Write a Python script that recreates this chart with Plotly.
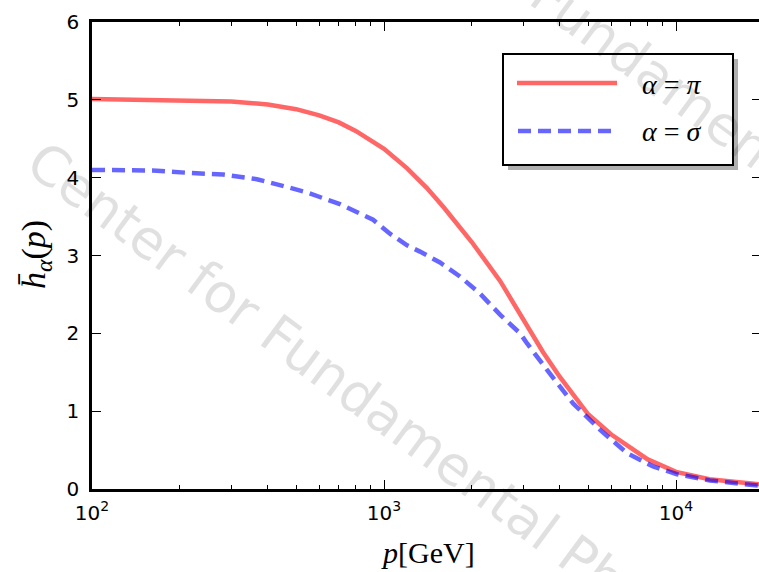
import plotly.graph_objects as go

# Momentum grid (GeV) and averaged h for the pi channel
p_pi = [100, 200, 300, 400, 500, 600, 700, 800, 900, 1000, 1200, 1400, 1600,
        2000, 2500, 3000, 3500, 4000, 5000, 6000, 7000, 8000, 10000, 13000, 20000]
h_pi = [5.01, 5.00, 4.98, 4.94, 4.88, 4.80, 4.71, 4.60, 4.48, 4.37, 4.12, 3.87, 3.62,
        3.17, 2.67, 2.19, 1.76, 1.44, 0.96, 0.70, 0.52, 0.38, 0.22, 0.125, 0.055]

# Momentum grid (GeV) and averaged h for the sigma channel
p_sigma = [100, 167, 217, 281, 367, 417, 476, 545, 706, 917, 1048, 1199, 1328, 1555,
           1820, 2132, 2496, 2924, 3090, 3616, 4440, 5495, 6796, 8340, 10070, 13060, 20000]
h_sigma = [4.10, 4.09, 4.06, 4.04, 3.98, 3.92, 3.87, 3.81, 3.66, 3.46, 3.28, 3.13, 3.05, 2.91,
           2.73, 2.51, 2.24, 2.00, 1.87, 1.53, 1.10, 0.76, 0.46, 0.29, 0.19, 0.11, 0.035]

x_tickvals = [100, 1000, 10000]
x_ticktext = ["10<sup>2</sup>", "10<sup>3</sup>", "10<sup>4</sup>"]
x_minor = [m * d for d in (100, 1000, 10000) for m in range(2, 10)]
y_tickvals = [0, 1, 2, 3, 4, 5, 6]

legend_labels = ["<i>α</i> = <i>π</i>", "<i>α</i> = <i>σ</i>"]

RED = "rgba(255,0,0,0.6)"
BLUE = "rgba(0,0,255,0.6)"
DASH = "13px,7px"

W, H = 759, 572
L, R, T, B = 92, 0, 22, 83
PW, PH = W - L - R, H - T - B


def px(x):
    return (x - L) / PW


def py(y):
    return (H - B - y) / PH


fig = go.Figure()
fig.add_trace(go.Scatter(x=p_pi, y=h_pi, mode="lines", name=legend_labels[0],
                         line=dict(color=RED, width=4.5), showlegend=False))
fig.add_trace(go.Scatter(x=p_sigma, y=h_sigma, mode="lines", name=legend_labels[1],
                         line=dict(color=BLUE, width=4.5, dash=DASH), showlegend=False))
# carries the mirrored tick marks on the right-hand side
fig.add_trace(go.Scatter(x=[], y=[], yaxis="y2", showlegend=False))

axis_common = dict(showgrid=False, zeroline=False, ticks="inside", tickcolor="black",
                   tickwidth=1.2, ticklen=9, showline=True, linecolor="black", linewidth=2.5,
                   tickfont=dict(family="DejaVu Sans", size=20, color="black"))

fig.update_layout(
    width=W, height=H,
    margin=dict(l=L, r=R, t=T, b=B),
    plot_bgcolor="white", paper_bgcolor="white",
    xaxis=dict(type="log", range=[2, 4.284], tickvals=x_tickvals, ticktext=x_ticktext,
               mirror="ticks", ticklabelstandoff=4,
               minor=dict(tickvals=x_minor, ticks="inside", ticklen=4.5, tickwidth=1,
                          tickcolor="black", showgrid=False),
               **axis_common),
    yaxis=dict(range=[0, 6], tickvals=y_tickvals, mirror=False, ticklabelstandoff=6,
               **axis_common),
    yaxis2=dict(range=[0, 6], tickvals=y_tickvals, overlaying="y", side="right",
                ticks="inside", ticklen=7, tickwidth=1.2, tickcolor="black",
                showticklabels=False, showline=False, showgrid=False, zeroline=False),
)

# legend frame with drop shadow
shapes = [
    dict(type="rect", xref="paper", yref="paper", x0=px(508), x1=px(738), y0=py(59), y1=py(170),
         fillcolor="#b0b0b0", line=dict(width=0), layer="above"),
    dict(type="rect", xref="paper", yref="paper", x0=px(503), x1=px(733), y0=py(54), y1=py(165),
         fillcolor="white", line=dict(color="black", width=2), layer="above"),
    dict(type="line", xref="paper", yref="paper", x0=px(517), x1=px(617), y0=py(83), y1=py(83),
         line=dict(color=RED, width=4.5), layer="above"),
    dict(type="line", xref="paper", yref="paper", x0=px(518), x1=px(611), y0=py(131), y1=py(131),
         line=dict(color=BLUE, width=4.5, dash=DASH), layer="above"),
]
fig.update_layout(shapes=shapes)

serif = dict(family="Liberation Serif", size=28, color="black")
annotations = [
    dict(text=legend_labels[0], x=px(640), y=py(84), xanchor="left", yanchor="middle",
         font=serif),
    dict(text=legend_labels[1], x=px(640), y=py(131), xanchor="left", yanchor="middle",
         font=serif),
    dict(text="<i>p</i>[GeV]", x=px(428), y=py(552), xanchor="center", yanchor="middle",
         font=dict(family="Liberation Serif", size=30, color="black")),
    dict(text="<i>h̄</i><sub><i>α</i></sub>(<i>p</i>)", x=px(36), y=py(255), xanchor="center",
         yanchor="middle", textangle=-90,
         font=dict(family="Liberation Serif", size=34, color="black")),
]
# faint diagonal watermark
for cx, cy in [(380, 410), (650, 70)]:
    annotations.append(dict(text="Center for Fundamental Physics", x=px(cx), y=py(cy),
                            xanchor="center", yanchor="middle", textangle=36.5,
                            font=dict(family="DejaVu Sans", size=54,
                                      color="rgba(0,0,0,0.12)")))
for a in annotations:
    a.update(xref="paper", yref="paper", showarrow=False)
fig.update_layout(annotations=annotations)

fig.write_html("out.html")
